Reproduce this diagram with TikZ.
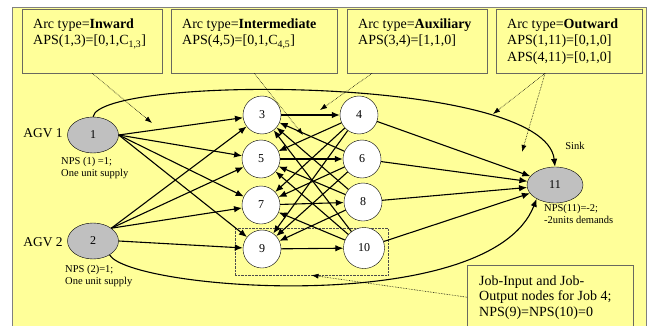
\documentclass[tikz,border=0pt]{standalone}
\usepackage{fontspec}
\setmainfont{Liberation Serif}
\usepackage{xcolor}
\usepackage{tikz}
\usetikzlibrary{shapes.geometric}
\usetikzlibrary{positioning}
\usetikzlibrary{arrows.meta}
\definecolor{bgyellow}{RGB}{255,255,153}
\definecolor{agvgray}{RGB}{192,192,192}
\definecolor{boxline}{RGB}{105,105,95}

\begin{document}
\begin{tikzpicture}[
	x=1pt, y=-1pt,
	font=\fontsize{12}{14}\selectfont
]
\tikzset{
    jobnode/.style = {circle, draw=black, fill=white, minimum size=38pt, inner sep=0pt},
    agvnode/.style = {ellipse, draw=black, fill=agvgray, minimum width=51pt, minimum height=36pt, inner sep=0pt},
    infobox/.style = {rectangle, draw=boxline, fill=bgyellow, anchor=north west, inner sep=0pt, minimum height=64pt},
    infotext/.style = {align=left, inner sep=0pt, anchor=north west, font=\fontsize{14}{16.5}\selectfont},
    smalltext/.style = {align=left, inner sep=0pt, anchor=north west, font=\fontsize{10.5}{11.8}\selectfont},
    arc/.style = {-{Latex[length=8pt,width=6.5pt]}, line width=1.1pt},
    pointer/.style = {-{Latex[length=7pt,width=5pt]}, densely dotted, line width=0.6pt, draw=black}
}
\useasboundingbox (0,0) rectangle (652,326);
\fill[bgyellow] (12,8) rectangle (646,330);
\draw[gray, line width=1pt] (12,330) -- (12,8) -- (646,8) -- (646,330);

% arc type boxes
\node[infobox, minimum width=140pt] (box1) at (22,9) {};
\node[infobox, minimum width=166pt] (box2) at (171,9) {};
\node[infobox, minimum width=140pt] (box3) at (347,9) {};
\node[infobox, minimum width=146pt] (box4) at (496,9) {};
\node[infobox, minimum width=166pt] (box5) at (467,265) {};
\node[infotext, below right=9.5pt and 11pt of box1.north west] (txt1) {Arc type=\textbf{Inward}\\APS(1,3)=[0,1,C\textsubscript{1,3}]};
\node[infotext, below right=9.5pt and 11pt of box2.north west] (txt2) {Arc type=\textbf{Intermediate}\\APS(4,5)=[0,1,C\textsubscript{4,5}]};
\node[infotext, below right=9.5pt and 11pt of box3.north west] (txt3) {Arc type=\textbf{Auxiliary}\\APS(3,4)=[1,1,0]};
\node[infotext, below right=9.5pt and 11pt of box4.north west] (txt4) {Arc type=\textbf{Outward}\\APS(1,11)=[0,1,0]\\APS(4,11)=[0,1,0]};
\node[infotext, font=\fontsize{14}{15.5}\selectfont, below right=10.5pt and 12pt of box5.north west] (txt5) {Job-Input and Job-\\Output nodes for Job 4;\\NPS(9)=NPS(10)=0};

% job 4 frame
\node[draw=black!70, densely dotted, minimum width=153pt, minimum height=47pt, inner sep=0pt] (job4) at (311.5,251.5) {};

% nodes
\node[agvnode] (n1) at (93,135) {1};
\node[agvnode] (n2) at (93,241) {2};
\node[jobnode] (n3) at (262,115) {3};
\node[jobnode] (n4) at (359,115) {4};
\node[jobnode] (n5) at (261,159) {5};
\node[jobnode] (n6) at (362,159) {6};
\node[jobnode] (n7) at (261,205) {7};
\node[jobnode] (n8) at (363,202) {8};
\node[jobnode] (n9) at (262,249) {9};
\node[jobnode, minimum size=41pt] (n10) at (364,248) {10};
\node[agvnode, minimum width=56pt] (n11) at (555,185) {11};

\node[font=\fontsize{13.5}{16}\selectfont] (agv1) at (43,133) {AGV 1};
\node[font=\fontsize{13.5}{16}\selectfont] (agv2) at (43,242) {AGV 2};
\node[smalltext] (nps1) at (61,157) {NPS (1) =1;\\One unit supply};
\node[smalltext] (nps2) at (65,265) {NPS (2)=1;\\One unit supply};
\node[font=\fontsize{10.5}{12}\selectfont] (sink) at (575,146) {Sink};
\node[smalltext] (nps11) at (544,204) {NPS(11)=-2;\\-2units demands};

% arcs
\foreach \t in {3,5,7,9} \draw[arc] (n1.east) -- (n\t);
\foreach \t in {3,5,7} \draw[arc] (n2.35) -- (n\t);
\draw[arc] (n2.east) -- (n9);
\foreach \a/\b in {3/4,5/6,7/8,9/10} \draw[arc] (n\a) -- (n\b);
\foreach \a in {4,6,8,10} \draw[arc] (n\a) -- (n11);
\foreach \a/\b in {4/5,4/7,4/9,6/3,6/7,6/9,8/3,8/5,8/9,10/3,10/5,10/7} \draw[arc] (n\a) -- (n\b);
\draw[arc] (n1.north) .. controls (100,75) and (545,75) .. (n11.north);
\draw[arc] (n2.-40) .. controls (130,290) and (490,318) .. (n11.217);

% pointers
\coordinate (a13) at (152,123);
\coordinate (a45) at (303,135);
\coordinate (a34) at (320,110);
\coordinate (a111) at (493,114);
\coordinate (a411) at (522,152);
\draw[pointer] (box1.south) -- (a13);
\draw[pointer] (box2.south) -- (a45);
\draw[pointer] ([xshift=25pt]box3.south west) -- (a34);
\draw[pointer] ([xshift=49pt]box4.south west) -- (a111);
\draw[pointer] ([xshift=49pt]box4.south west) -- (a411);
\draw[pointer] (box5.west) -- (job4.south);
\end{tikzpicture}
\end{document}
